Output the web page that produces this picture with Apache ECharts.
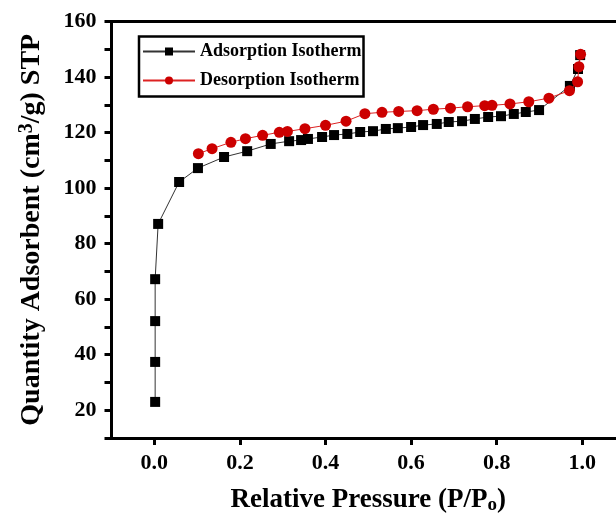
<!DOCTYPE html>
<html>
<head>
<meta charset="utf-8">
<script src="https://cdn.jsdelivr.net/npm/echarts@6/dist/echarts.min.js"></script>
<style>
  html, body { margin: 0; padding: 0; background: #fff; }
  #chart { width: 616px; height: 516px; }
</style>
</head>
<body>
<div id="chart"></div>
<script>
// adsorption branch (black squares)
var adsX = [0.002, 0.002, 0.002, 0.002, 0.009, 0.058, 0.102, 0.163, 0.217, 0.272, 0.315, 0.343, 0.359, 0.392, 0.420,
  0.451, 0.481, 0.511, 0.541, 0.569, 0.600, 0.628, 0.660, 0.688, 0.719, 0.749, 0.780, 0.810, 0.840, 0.868, 0.899,
  0.971, 0.990, 0.995];
var adsY = [23.0, 37.4, 52.1, 67.2, 87.1, 102.2, 107.2, 111.2, 113.3, 115.9, 116.9, 117.3, 117.7, 118.4, 119.1,
  119.5, 120.2, 120.5, 121.3, 121.6, 122.0, 122.7, 123.1, 123.8, 124.1, 124.9, 125.6, 125.9, 126.7, 127.4, 128.1,
  136.8, 142.9, 147.9];

// desorption branch (red circles)
var desX = [0.103, 0.135, 0.179, 0.213, 0.253, 0.292, 0.311, 0.352, 0.400, 0.448, 0.492, 0.532, 0.571, 0.614,
  0.652, 0.692, 0.732, 0.772, 0.789, 0.831, 0.875, 0.922, 0.970, 0.989, 0.992, 0.996];
var desY = [112.4, 114.2, 116.5, 117.8, 119.0, 120.1, 120.4, 121.4, 122.6, 124.1, 126.8, 127.3, 127.6, 127.9,
  128.4, 128.8, 129.3, 129.7, 129.8, 130.3, 131.1, 132.4, 135.1, 138.3, 143.7, 148.2];

var xTicks = [0.0, 0.2, 0.4, 0.6, 0.8, 1.0];
var yTicks = [20, 40, 60, 80, 100, 120, 140, 160];
var yMinorTicks = [10, 20, 30, 40, 50, 60, 70, 80, 90, 100, 110, 120, 130, 140, 150, 160];

function pairs(xs, ys) {
  return xs.map(function (x, i) { return [x, ys[i]]; });
}

var serif = "'Liberation Serif', 'Times New Roman', serif";

var chart = echarts.init(document.getElementById('chart'));

var option = {
  backgroundColor: '#fff',
  animation: false,
  grid: {
    left: 111.5,
    top: 21.5,
    width: 513.6,
    height: 416.5,
    outerBoundsMode: 'none'
  },
  legend: {
    left: 139,
    top: 36.5,
    orient: 'vertical',
    itemWidth: 52,
    itemHeight: 10,
    itemGap: 11,
    padding: [6, 2, 7, 3],
    borderColor: '#000',
    borderWidth: 2.5,
    textStyle: {
      fontFamily: serif,
      fontWeight: 'bold',
      fontSize: 18,
      color: '#000'
    },
    data: ['Adsorption Isotherm', 'Desorption Isotherm']
  },
  xAxis: [{
    type: 'value',
    min: -0.1,
    max: 1.1,
    interval: 0.2,
    position: 'bottom',
    axisLine: { show: true, onZero: false, lineStyle: { color: '#000', width: 3 } },
    axisTick: { show: true, inside: false, length: 7, lineStyle: { color: '#000', width: 3 },
      customValues: xTicks },
    minorTick: { show: true, splitNumber: 2, length: 4, lineStyle: { color: '#000', width: 2 } },
    splitLine: { show: false },
    axisLabel: {
      margin: 14,
      customValues: xTicks,
      fontFamily: serif,
      fontWeight: 'bold',
      fontSize: 22,
      color: '#000',
      formatter: function (v) { return v.toFixed(1); }
    },
    name: 'Relative Pressure (P/P{sub|o})',
    nameLocation: 'middle',
    nameGap: 48,
    nameTextStyle: {
      fontFamily: serif,
      fontWeight: 'bold',
      fontSize: 27,
      color: '#000',
      rich: {
        sub: { fontFamily: serif, fontWeight: 'bold', fontSize: 19, color: '#000', verticalAlign: 'bottom', padding: [10, 0, 0, 0] }
      }
    }
  }, {
    type: 'value',
    min: -0.1,
    max: 1.1,
    position: 'top',
    axisLine: { show: true, onZero: false, lineStyle: { color: '#000', width: 3 } },
    axisTick: { show: false },
    axisLabel: { show: false },
    splitLine: { show: false }
  }],
  yAxis: {
    type: 'value',
    min: 10,
    max: 160,
    interval: 10,
    axisLine: { show: true, onZero: false, lineStyle: { color: '#000', width: 3 } },
    axisTick: { show: true, inside: false, length: 7, lineStyle: { color: '#000', width: 3 },
      customValues: yMinorTicks },
    splitLine: { show: false },
    axisLabel: {
      margin: 15,
      customValues: yTicks,
      fontFamily: serif,
      fontWeight: 'bold',
      fontSize: 22,
      color: '#000'
    },
    name: 'Quantity Adsorbent (cm{sup|3}/g) STP',
    nameLocation: 'middle',
    nameRotate: 90,
    nameGap: 65,
    nameTextStyle: {
      fontFamily: serif,
      fontWeight: 'bold',
      fontSize: 28,
      color: '#000',
      rich: {
        sup: { fontFamily: serif, fontWeight: 'bold', fontSize: 20, color: '#000', verticalAlign: 'top', padding: [0, 0, 10, 0] }
      }
    }
  },
  series: [{
    name: 'Adsorption Isotherm',
    type: 'line',
    data: pairs(adsX, adsY),
    symbol: 'rect',
    symbolSize: 10,
    itemStyle: { color: '#000' },
    lineStyle: { color: '#333', width: 1 },
    z: 2
  }, {
    name: 'Desorption Isotherm',
    type: 'line',
    data: pairs(desX, desY),
    symbol: 'circle',
    symbolSize: 11,
    itemStyle: { color: '#cc0000' },
    lineStyle: { color: '#d22', width: 1 },
    z: 3
  }]
};

chart.setOption(option);
</script>
</body>
</html>
